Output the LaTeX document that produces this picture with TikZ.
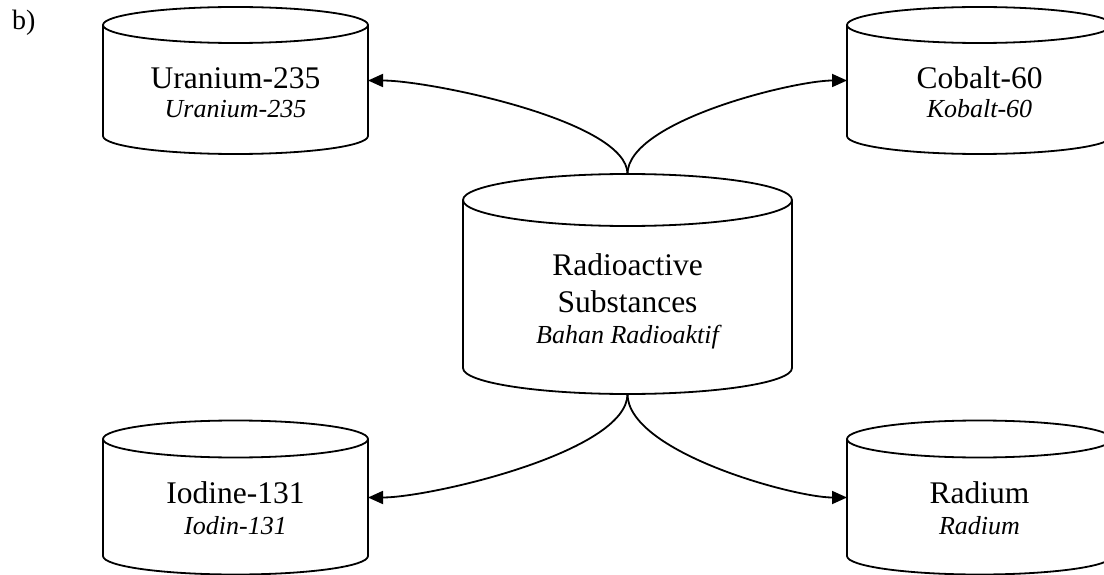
\documentclass[tikz,border=0pt]{standalone}
\usepackage{fontspec}
\setmainfont{Liberation Serif}
\usetikzlibrary{arrows.meta,calc}

% Outline of a vertical drum: full top ellipse, side walls, lower half ellipse.
% #1 node name, #2 half width, #3 vertical radius of the ellipses
\newcommand\drumoutline[3]{%
  \draw[outline] (#1.north) ellipse[x radius=#2, y radius=#3];
  \draw[outline] (#1.north west) -- (#1.south west)
    arc[start angle=180, end angle=360, x radius=#2, y radius=#3] -- (#1.north east);
}

\begin{document}
\begin{tikzpicture}[x=1pt, y=1pt,
  drum/.style={inner sep=0pt, outer sep=0pt, draw=none},
  outline/.style={line width=1.8pt, black, line join=round},
  link/.style={line width=1.8pt, black, -{Triangle[length=15pt, width=13pt]}},
  mainlbl/.style={anchor=base, inner sep=0pt, font=\fontsize{31.5}{38}\selectfont},
  itlbl/.style={anchor=base, inner sep=0pt, font=\fontsize{26}{30}\selectfont\itshape},
]
\useasboundingbox (0,0) rectangle (1104,-575);
\clip (0,0) rectangle (1104,-575);

% part label
\node[anchor=base west, inner sep=0pt, font=\fontsize{28}{32}\selectfont] (part) at (12,-30) {b)};

% drum bodies (wall area only)
\node[drum, minimum width=265pt, minimum height=111pt] (uranium) at (235.5,-80.5) {};
\node[drum, minimum width=265pt, minimum height=111pt] (cobalt)  at (979.5,-80.5) {};
\node[drum, minimum width=329pt, minimum height=168pt] (rs)      at (627.5,-284) {};
\node[drum, minimum width=265pt, minimum height=117pt] (iodine)  at (235.5,-497.5) {};
\node[drum, minimum width=265pt, minimum height=117pt] (radium)  at (979.5,-497.5) {};

\drumoutline{uranium}{132.5}{18}
\drumoutline{cobalt}{132.5}{18}
\drumoutline{rs}{164.5}{26}
\drumoutline{iodine}{132.5}{18.5}
\drumoutline{radium}{132.5}{18.5}

% labels
\node[mainlbl] (uranium-en) at (235.5,-89)  {Uranium-235};
\node[itlbl]   (uranium-id) at (235.5,-118) {Uranium-235};
\node[mainlbl] (cobalt-en)  at (979.5,-89)  {Cobalt-60};
\node[itlbl]   (cobalt-id)  at (979.5,-118) {Kobalt-60};
\node[mainlbl] (rs-en1)     at (627.5,-275) {Radioactive};
\node[mainlbl] (rs-en2)     at (627.5,-312) {Substances};
\node[itlbl]   (rs-id)      at (627.5,-343) {Bahan Radioaktif};
\node[mainlbl] (iodine-en)  at (235.5,-503) {Iodine-131};
\node[itlbl]   (iodine-id)  at (235.5,-534) {Iodin-131};
\node[mainlbl] (radium-en)  at (979.5,-503) {Radium};
\node[itlbl]   (radium-id)  at (979.5,-534) {Radium};

% connectors leaving the top and bottom of the central drum
\coordinate (rs-top) at ($(rs.north)+(0,26)$);
\coordinate (rs-bot) at ($(rs.south)+(0,-26)$);
\draw[link] (rs-top) .. controls +(0,53) and +(62,0) .. (uranium.east);
\draw[link] (rs-top) .. controls +(0,53) and +(-53,0) .. (cobalt.west);
\draw[link] (rs-bot) .. controls +(0,-58) and +(62,0) .. (iodine.east);
\draw[link] (rs-bot) .. controls +(0,-58) and +(-53,0) .. (radium.west);
\end{tikzpicture}
\end{document}
